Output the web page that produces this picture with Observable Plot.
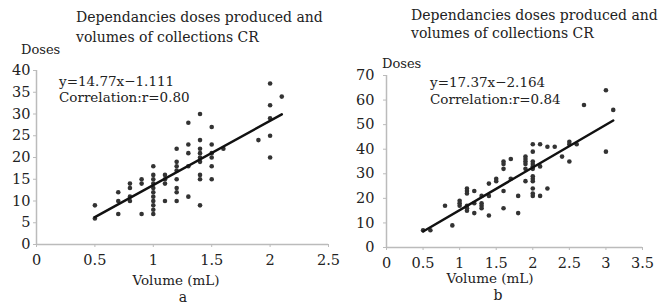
<!DOCTYPE html>
<html>
<head>
<meta charset="utf-8">
<script src="https://cdn.jsdelivr.net/npm/d3@7"></script>
<script src="https://cdn.jsdelivr.net/npm/@observablehq/plot@0.6"></script>
<style>
  html, body { margin: 0; padding: 0; background: #fff; }
  #wrap { position: relative; width: 669px; height: 305px; font-family: "DejaVu Serif", "Liberation Serif", serif; color: #222; overflow: hidden; }
  .plot { position: absolute; top: 0; }
  .t { position: absolute; white-space: nowrap; line-height: 1; }
</style>
</head>
<body>
<div id="wrap"></div>
<script>
// ---- Panel a data ----
const aTitle = ["Dependancies doses produced and", "volumes of collections CR"];
const aVolume = [0.5,0.5, 0.7,0.7,0.7, 0.8,0.8,0.8,0.8, 0.9,0.9,0.9,
  1.0,1.0,1.0,1.0,1.0,1.0,1.0,1.0,1.0,1.0,1.0,
  1.1,1.1,1.1,1.1, 1.2,1.2,1.2,1.2,1.2,1.2,1.2,1.2,
  1.3,1.3,1.3,1.3,1.3, 1.4,1.4,1.4,1.4,1.4,1.4,1.4,1.4,1.4,
  1.5,1.5,1.5,1.5,1.5,1.5, 1.6, 1.9, 2.0,2.0,2.0,2.0,2.0, 2.1];
const aDoses = [9,6, 12,10,7, 14,13,11,10, 15,14,7,
  18,16,15,14,13,12,11,10,9,8,7,
  16,15,14,10, 22,19,18,17,15,13,12,10,
  28,23,21,18,11, 30,24,22,21,20,19,16,15,9,
  27,23,21,20,18,15, 22, 24, 37,32,29,25,20, 34];
const aSlope = 14.77, aIntercept = -1.111, aR = "0.80";
const aLineX = [0.5, 2.1];
const aXTicks = [0, 0.5, 1, 1.5, 2, 2.5];
const aYTicks = [0, 5, 10, 15, 20, 25, 30, 35, 40];

// ---- Panel b data ----
const bTitle = ["Dependancies doses produced and", "volumes of collections CR"];
const bVolume = [0.5, 0.6, 0.8, 0.9, 1.0,1.0,1.0,
  1.1,1.1,1.1,1.1,1.1,1.1, 1.2,1.2,1.2, 1.3,1.3,1.3,1.3, 1.4,1.4,1.4,
  1.5,1.5, 1.6,1.6,1.6,1.6,1.6, 1.7,1.7, 1.8,1.8,
  1.9,1.9,1.9,1.9,1.9,1.9,
  2.0,2.0,2.0,2.0,2.0,2.0,2.0,2.0,2.0,2.0,2.0,2.0,
  2.1,2.1,2.1, 2.2,2.2, 2.3, 2.4, 2.5,2.5,2.5, 2.6, 2.7, 3.0,3.0, 3.1];
const bDoses = [7, 7, 17, 9, 19,18,17,
  24,23,22,17,16,15, 23,18,14, 21,18,17,16, 26,21,13,
  28,27, 35,34,32,23,16, 36,28, 21,14,
  37,36,35,34,32,27,
  42,39,35,34,33,32,29,28,27,24,22,21,
  42,33,21, 41,24, 41, 37, 43,42,35, 42, 58, 64,39, 56];
const bSlope = 17.37, bIntercept = -2.164, bR = "0.84";
const bLineX = [0.5, 3.1];
const bXTicks = [0, 0.5, 1, 1.5, 2, 2.5, 3, 3.5];
const bYTicks = [0, 10, 20, 30, 40, 50, 60, 70];

const FONT = "'DejaVu Serif', 'Liberation Serif', serif";
const wrap = document.getElementById("wrap");

function fmtEq(s, i) {
  return "y=" + s + "x\u2212" + Math.abs(i);
}

function panel(cfg) {
  const pts = cfg.vol.map((v, i) => ({v, d: cfg.dose[i]}));
  const line = cfg.lineX.map(x => ({v: x, d: cfg.slope * x + cfg.intercept}));
  const p = Plot.plot({
    width: cfg.width, height: 305,
    marginLeft: cfg.ml, marginRight: cfg.mr, marginTop: cfg.mt, marginBottom: cfg.mb,
    style: {fontFamily: FONT, fontSize: "14.5px", color: "#222", background: "transparent", overflow: "visible"},
    x: {domain: [cfg.xTicks[0], cfg.xTicks[cfg.xTicks.length - 1]]},
    y: {domain: [cfg.yTicks[0], cfg.yTicks[cfg.yTicks.length - 1]]},
    marks: [
      Plot.ruleY([cfg.yTicks[0]], {stroke: "#bbb", strokeWidth: 1.5}),
      Plot.ruleX([cfg.xTicks[0]], {stroke: "#bbb", strokeWidth: 1.5}),
      Plot.axisY(cfg.yTicks, {tickSize: 3, tickPadding: cfg.yPad, stroke: "#bbb", fill: "#222", fontFamily: FONT, fontSize: 14.5, label: null, tickFormat: d => String(d)}),
      Plot.axisX(cfg.xTicks, {tickSize: 3, tickPadding: 7, stroke: "#bbb", fill: "#222", fontFamily: FONT, fontSize: 14.5, label: null, tickFormat: d => String(d)}),
      Plot.dot(pts, {x: "v", y: "d", r: 2.3, fill: "#333", stroke: "none"}),
      Plot.line(line, {x: "v", y: "d", stroke: "#111", strokeWidth: 2.5})
    ]
  });
  p.classList.add("plot");
  p.style.left = cfg.left + "px";
  wrap.appendChild(p);
}

panel({vol: aVolume, dose: aDoses, slope: aSlope, intercept: aIntercept, lineX: aLineX,
  xTicks: aXTicks, yTicks: aYTicks, left: 0, width: 335, ml: 36, mr: 7, mt: 70, mb: 61, yPad: 3});
panel({vol: bVolume, dose: bDoses, slope: bSlope, intercept: bIntercept, lineX: bLineX,
  xTicks: bXTicks, yTicks: bYTicks, left: 335, width: 334, ml: 51, mr: 27, mt: 75, mb: 58, yPad: 9});

function txt(s, x, yc, size, anchor) {
  const d = document.createElement("div");
  d.className = "t";
  d.textContent = s;
  d.style.fontSize = size + "px";
  d.style.top = (yc - size / 2) + "px";
  if (anchor === "middle") { d.style.left = x + "px"; d.style.transform = "translateX(-50%)"; }
  else d.style.left = x + "px";
  wrap.appendChild(d);
  return d;
}

// Panel a texts
txt(aTitle[0], 76, 17, 14);
txt(aTitle[1], 76, 37, 14);
txt("Doses", 21, 49, 13);
txt(fmtEq(aSlope, aIntercept), 59, 82, 13.5);
txt("Correlation:r=" + aR, 59, 98, 13.5);
txt("Volume (mL)", 176, 281, 13.5, "middle");
txt("a", 183, 297, 14, "middle");

// Panel b texts
txt(bTitle[0], 411, 15, 14);
txt(bTitle[1], 411, 33, 14);
txt("Doses", 382, 63, 13);
txt(fmtEq(bSlope, bIntercept), 430, 83, 13.5);
txt("Correlation:r=" + bR, 430, 100, 13.5);
txt("Volume (mL)", 490, 279, 13.5, "middle");
txt("b", 498, 295, 14, "middle");
</script>
</body>
</html>
